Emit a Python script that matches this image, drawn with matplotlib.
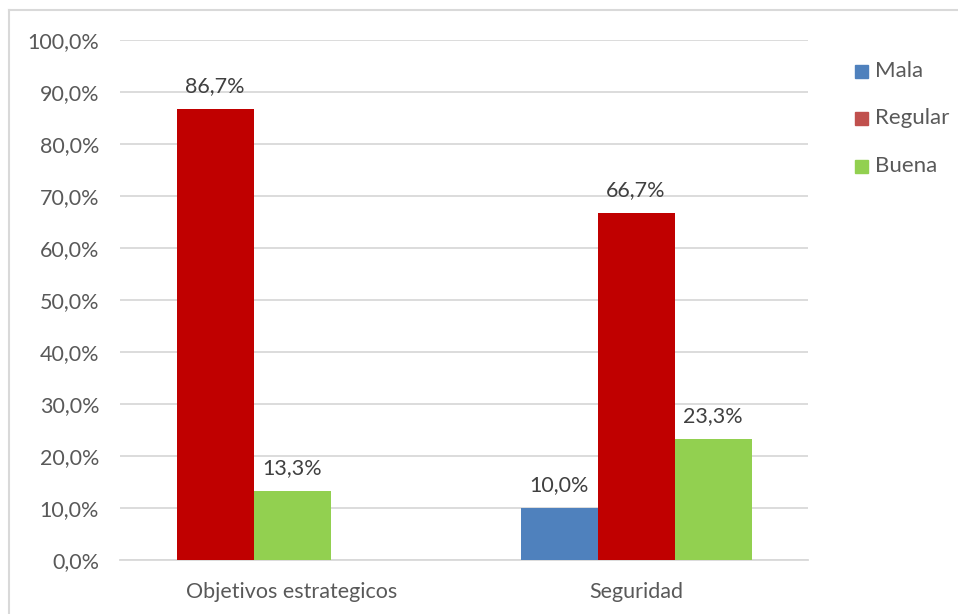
import matplotlib
matplotlib.use("Agg")
import matplotlib.pyplot as plt
from matplotlib.patches import Rectangle
from matplotlib.lines import Line2D
import numpy as np

categories = ["Objetivos estrategicos", "Seguridad"]
series_names = ["Mala", "Regular", "Buena"]
# percentages per series, one value per category (None = no bar)
mala = [None, 10.0]
regular = [86.7, 66.7]
buena = [13.3, 23.3]
y_ticks = [0, 10, 20, 30, 40, 50, 60, 70, 80, 90, 100]

bar_colors = ["#4F81BD", "#C00000", "#92D050"]
legend_colors = ["#4F81BD", "#C0504D", "#92D050"]

plt.rcParams["font.family"] = ["Lato", "DejaVu Sans"]
FS = 15.5

fig = plt.figure(figsize=(9.58, 6.14), dpi=100)
W, H = 958, 614
ax = fig.add_axes([120 / W, (H - 560) / H, (808 - 120) / W, (560 - 40) / H])

bar_w = 77 / 344
all_series = [mala, regular, buena]
for ci in range(len(categories)):
    present = [si for si in range(3) if all_series[si][ci] is not None]
    n = len(all_series)
    for slot, si in enumerate(present):
        val = all_series[si][ci]
        x = ci + (slot - (n - 1) / 2) * bar_w
        ax.bar(x, val, width=bar_w, color=bar_colors[si], zorder=3)
        ax.text(x, val + 2.5, f"{val:.1f}%".replace(".", ","), ha="center", va="bottom",
                fontsize=FS, color="#404040")

ax.set_xlim(-0.5, 1.5)
ax.set_ylim(0, 100)
ax.set_yticks(y_ticks)
ax.set_yticklabels([f"{t:.1f}%".replace(".", ",") for t in y_ticks], fontsize=FS, color="#595959")
ax.set_xticks(range(len(categories)))
ax.set_xticklabels(categories, fontsize=FS, color="#595959")
ax.tick_params(axis="both", length=0)
ax.tick_params(axis="y", pad=15)
ax.tick_params(axis="x", pad=16)
ax.grid(axis="y", color="#D9D9D9", linewidth=1.3, zorder=0)
for s in ["top", "right", "left"]:
    ax.spines[s].set_visible(False)
ax.spines["bottom"].set_color("#D9D9D9")
ax.spines["bottom"].set_linewidth(1.3)

# legend
for i, (name, col) in enumerate(zip(series_names, legend_colors)):
    yc = 71 + i * 47.5
    fig.patches.append(Rectangle((855 / W, (H - yc - 6.5) / H), 13 / W, 13 / H,
                                 transform=fig.transFigure, color=col))
    fig.text(875 / W, (H - yc) / H, name, fontsize=16, color="#595959", va="center")

# chart border (left and top edges)
fig.add_artist(Line2D([9 / W, 9 / W], [0, (H - 10) / H], transform=fig.transFigure,
                      color="#D9D9D9", linewidth=1.5))
fig.add_artist(Line2D([9 / W, 1], [(H - 10) / H, (H - 10) / H], transform=fig.transFigure,
                      color="#D9D9D9", linewidth=1.5))

fig.savefig("out.png", dpi=100)
